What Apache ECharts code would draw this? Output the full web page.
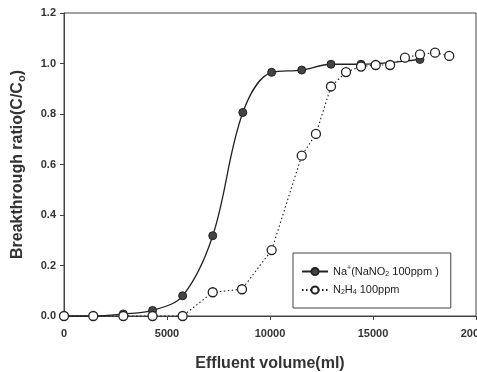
<!DOCTYPE html>
<html><head><meta charset="utf-8">
<script src="https://cdn.jsdelivr.net/npm/echarts@6/dist/echarts.min.js"></script>
<style>html,body{margin:0;padding:0;background:#fff}#c{width:477px;height:372px}</style>
</head><body><div id="c"></div>
<script>
const naVolume = [0, 1420, 2880, 4300, 5760, 7220, 8680, 10080, 11540, 12960, 14420, 17280];
const naRatio  = [0, 0, 0.008, 0.022, 0.08, 0.318, 0.806, 0.965, 0.974, 0.997, 0.997, 1.016];
const n2h4Volume = [0, 1420, 2880, 4300, 5760, 7220, 8640, 10080, 11540, 12230, 12960, 13690, 14420, 15130, 15830, 16550, 17280, 18010, 18700];
const n2h4Ratio  = [0, 0, 0, 0, 0, 0.094, 0.106, 0.261, 0.635, 0.721, 0.909, 0.966, 0.988, 0.994, 0.994, 1.023, 1.036, 1.043, 1.03];
const xTicks = [0, 5000, 10000, 15000, 20000];
const yTicks = [0, 0.2, 0.4, 0.6, 0.8, 1.0, 1.2];

const pair = (xs, ys) => xs.map((x, i) => [x, ys[i]]);
const chart = echarts.init(document.getElementById('c'));
const ink = '#222';
const lblStyle = {color: '#333', fontFamily: 'Liberation Sans, Arial', fontWeight: 'bold', fontSize: 11};
chart.setOption({
  backgroundColor: '#fff',
  animation: false,
  grid: {left: 64, right: 1, top: 13, bottom: 56, show: true, borderColor: '#444', borderWidth: 1,
         containLabel: false, outerBoundsMode: 'none'},
  xAxis: {
    type: 'value', min: xTicks[0], max: xTicks[xTicks.length - 1], interval: 5000,
    axisLine: {lineStyle: {color: '#444', width: 1}},
    axisTick: {show: true, length: 4, lineStyle: {color: '#444'}},
    splitLine: {show: false},
    axisLabel: Object.assign({margin: 12, formatter: v => String(v)}, lblStyle),
    name: 'Effluent volume(ml)', nameLocation: 'middle', nameGap: 40,
    nameTextStyle: {color: '#333', fontFamily: 'Liberation Sans, Arial', fontWeight: 'bold', fontSize: 16}
  },
  yAxis: {
    type: 'value', min: yTicks[0], max: yTicks[yTicks.length - 1], interval: 0.2,
    axisLine: {lineStyle: {color: '#444', width: 1}},
    axisTick: {show: true, length: 4, lineStyle: {color: '#444'}},
    splitLine: {show: false},
    axisLabel: Object.assign({margin: 8, formatter: v => v.toFixed(1)}, lblStyle),
    name: '{a|Breakthrough ratio(C/C}{s|o}{a|)}', nameLocation: 'middle', nameGap: 37,
    nameTextStyle: {
      rich: {
        a: {color: '#333', fontFamily: 'Liberation Sans, Arial', fontWeight: 'bold', fontSize: 16},
        s: {color: '#333', fontFamily: 'Liberation Sans, Arial', fontWeight: 'bold', fontSize: 11, padding: [8, 0, 0, 0]}
      }
    }
  },
  legend: {
    orient: 'vertical', left: 293, top: 253, itemWidth: 26, itemHeight: 9, itemGap: 7,
    padding: [12, 12, 12, 8], borderColor: '#444', borderWidth: 1,
    data: ['na', 'n2h4'],
    formatter: name => name === 'na'
      ? '{t|Na}{p|+}{t|(NaNO}{b|2}{t| 100ppm )}'
      : '{t|N}{b|2}{t|H}{b|4}{t| 100ppm}',
    textStyle: {
      rich: {
        t: {color: '#222', fontFamily: 'Liberation Sans, Arial', fontSize: 11},
        p: {color: '#222', fontFamily: 'Liberation Sans, Arial', fontSize: 7, padding: [0, 0, 6, 0]},
        b: {color: '#222', fontFamily: 'Liberation Sans, Arial', fontSize: 7, padding: [5, 0, 0, 0]}
      }
    }
  },
  series: [
    {
      name: 'na', type: 'line', data: pair(naVolume, naRatio), smooth: 0.35,
      symbol: 'circle', symbolSize: 8, clip: false,
      lineStyle: {color: ink, width: 1.3},
      itemStyle: {color: '#444', borderColor: '#222', borderWidth: 1}
    },
    {
      name: 'n2h4', type: 'line', data: pair(n2h4Volume, n2h4Ratio), smooth: false,
      symbol: 'circle', symbolSize: 9, clip: false,
      lineStyle: {color: ink, width: 1.1, type: [1.5, 2.5]},
      itemStyle: {color: '#fff', borderColor: '#222', borderWidth: 1.3}
    }
  ]
});
</script></body></html>
